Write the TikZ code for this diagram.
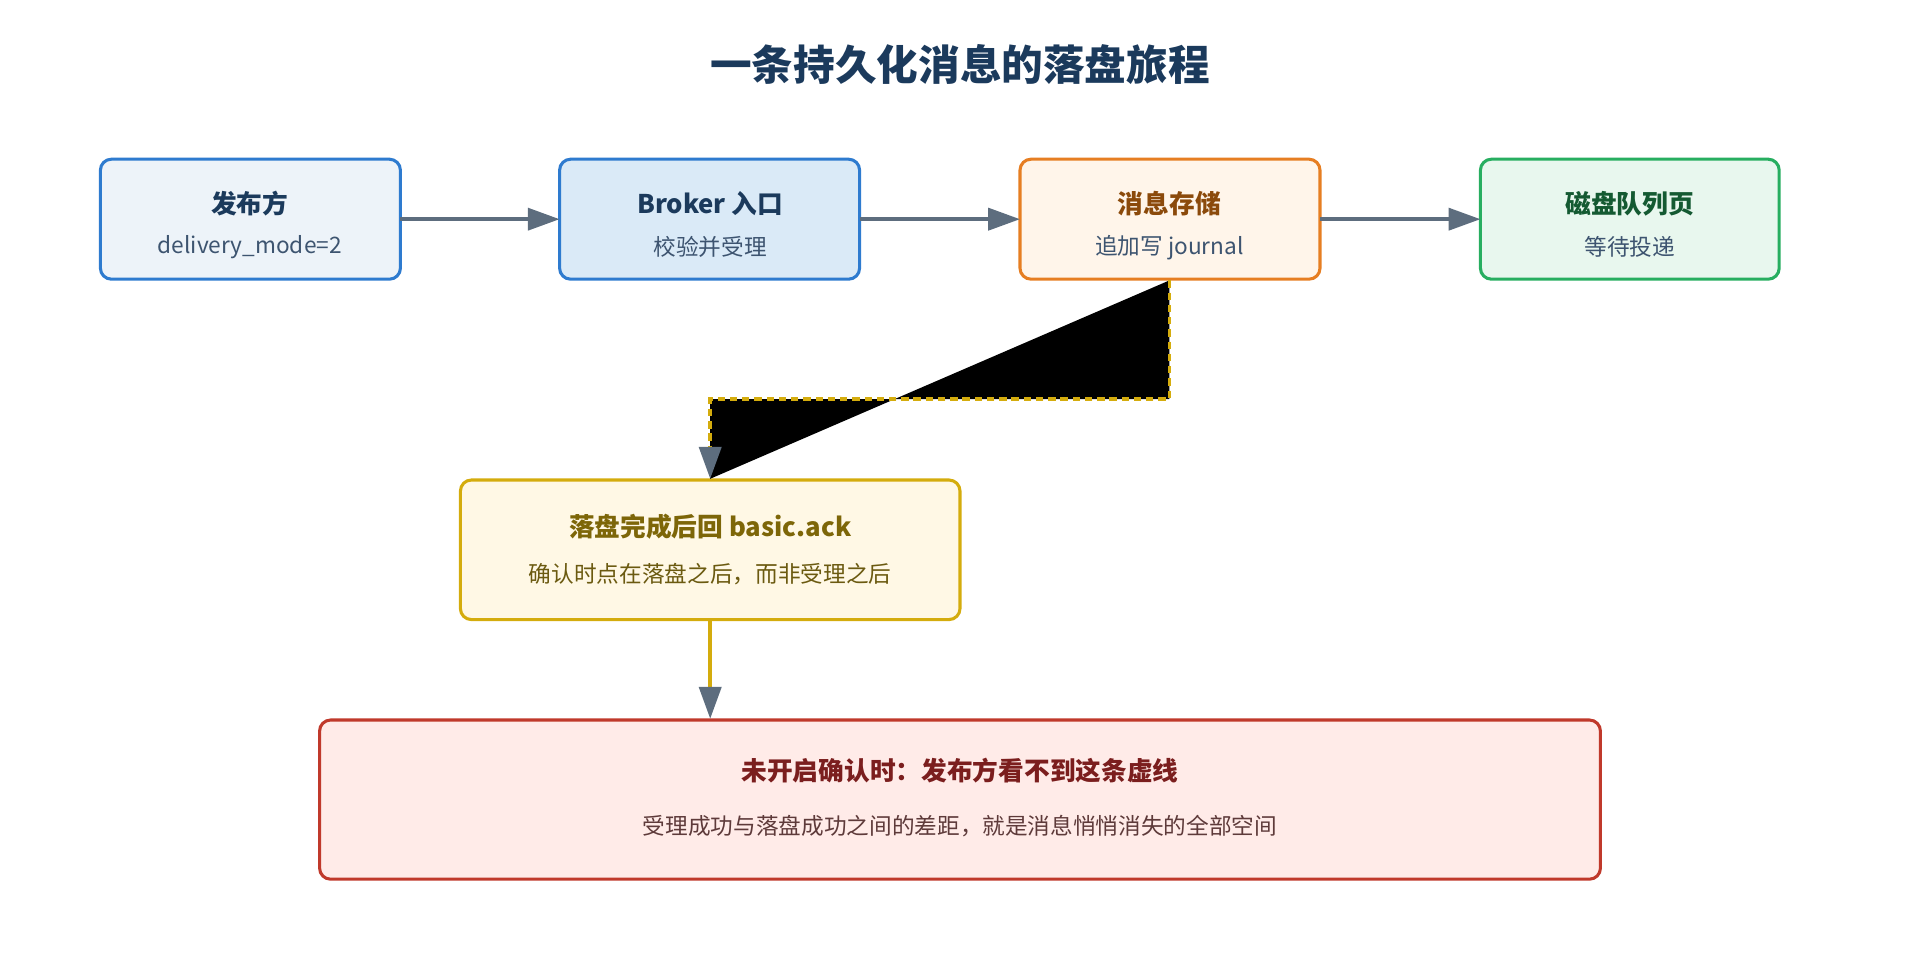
\documentclass[tikz,border=0pt]{standalone}
\usepackage{fontspec}
\setmainfont{Noto Sans CJK SC}
\usetikzlibrary{arrows.meta}
\definecolor{ag}{HTML}{5D6D7E}
\definecolor{ti}{HTML}{1B3A5C}
\definecolor{sb}{HTML}{3D5470}
\definecolor{bl}{HTML}{2E7BCF}
\definecolor{or}{HTML}{E67E22}
\definecolor{gr}{HTML}{27AE60}
\definecolor{ye}{HTML}{D4AC0D}
\definecolor{rd}{HTML}{C0392B}
\definecolor{fa}{HTML}{EDF3F9}
\definecolor{fb}{HTML}{DAEAF7}
\definecolor{fc}{HTML}{FFF5EA}
\definecolor{fd}{HTML}{E8F7EE}
\definecolor{fe}{HTML}{FFF8E5}
\definecolor{ff}{HTML}{FFEBE8}
\definecolor{tc}{HTML}{8B4A0B}
\definecolor{td}{HTML}{145A32}
\definecolor{te}{HTML}{7D6608}
\definecolor{se}{HTML}{6B5A10}
\definecolor{tf}{HTML}{7B1E1E}
\definecolor{sf}{HTML}{5E3A3A}
\begin{document}
\begin{tikzpicture}[x=1pt,y=-1pt,
 box/.style={draw,line width=2.5pt,rounded corners=9pt},
 t/.style={font=\fontsize{21}{24}\selectfont\bfseries},
 s/.style={font=\fontsize{18.5}{22}\selectfont},
 tip/.style={-{Triangle[length=26pt,width=18pt,color=ag]}},
 arr/.style={draw=ag,line width=3pt,tip}]
\useasboundingbox (0,0) rectangle (1568,784);
\node[font=\fontsize{34}{40}\selectfont\bfseries,text=ti] (title) at (784,53) {一条持久化消息的落盘旅程};
\path[box,draw=bl,fill=fa] (82,130) rectangle (327,228);
\path[box,draw=bl,fill=fb] (457,130) rectangle (702,228);
\path[box,draw=or,fill=fc] (833,130) rectangle (1078,228);
\path[box,draw=gr,fill=fd] (1209,130) rectangle (1453,228);
\path[box,draw=ye,fill=fe] (376,392) rectangle (784,506);
\path[box,draw=rd,fill=ff] (261,588) rectangle (1307,718);
\node[t,text=ti] (at) at (204,166) {发布方};
\node[s,text=sb] (as) at (204,202) {delivery\_mode=2};
\node[t,text=ti] (bt) at (580,166) {Broker 入口};
\node[s,text=sb] (bs) at (580,202) {校验并受理};
\node[t,text=tc] (ct) at (955,166) {消息存储};
\node[s,text=sb] (cs) at (955,202) {追加写 journal};
\node[t,text=td] (dt) at (1331,166) {磁盘队列页};
\node[s,text=sb] (ds) at (1331,202) {等待投递};
\node[t,text=te] (et) at (580,430) {落盘完成后回 basic.ack};
\node[s,text=se] (es) at (580,469) {确认时点在落盘之后，而非受理之后};
\node[t,text=tf] (ft) at (784,629) {未开启确认时：发布方看不到这条虚线};
\node[s,text=sf] (fs) at (784,675) {受理成功与落盘成功之间的差距，就是消息悄悄消失的全部空间};
\coordinate (A) at (327,179); \coordinate (B) at (457,179);
\coordinate (B2) at (702,179); \coordinate (C) at (833,179);
\coordinate (C2) at (1078,179); \coordinate (D) at (1209,179);
\coordinate (Cb) at (955,229); \coordinate (Et) at (580,391);
\coordinate (Eb) at (580,507); \coordinate (Ft) at (580,587);
\coordinate (K1) at (955,326); \coordinate (K2) at (580,326);
\draw[arr] (A)--(B); \draw[arr] (B2)--(C); \draw[arr] (C2)--(D);
\fill[black] (Cb)--(K1)--(K2)--(Et)--cycle;
\draw[draw=ye,line width=3pt,dash pattern=on 6pt off 4pt,tip] (Cb)--(K1)--(K2)--(Et);
\draw[draw=ye,line width=3pt,tip] (Eb)--(Ft);
\end{tikzpicture}
\end{document}
